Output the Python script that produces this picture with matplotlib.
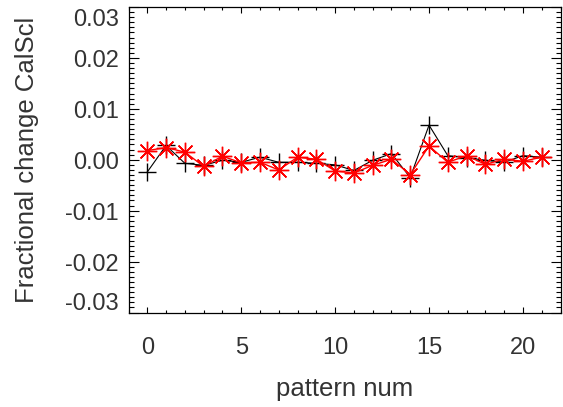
import matplotlib
matplotlib.use("Agg")
import matplotlib.pyplot as plt
from matplotlib.transforms import ScaledTranslation
from matplotlib.ticker import MultipleLocator

plt.rcParams['font.family'] = ['Liberation Sans', 'DejaVu Sans']

pattern = list(range(22))
black_vals = [-0.0024, 0.0028, -0.0007, -0.0011, -0.0001, -0.0005, 0.0005, -0.0005,
              -0.0005, -0.0007, -0.0010, -0.0021, -0.0001, 0.0012, -0.0035, 0.0068,
              0.0008, 0.0004, -0.0001, -0.0005, 0.0008, 0.0005]
red_vals = [0.0018, 0.0024, 0.0015, -0.0013, 0.0007, -0.0006, -0.0005, -0.0020,
            0.0005, 0.0001, -0.0022, -0.0026, -0.0011, 0.0001, -0.0029, 0.0027,
            -0.0005, 0.0008, -0.0009, 0.0001, -0.0003, 0.0005]
yticks = [-0.03, -0.02, -0.01, 0.00, 0.01, 0.02, 0.03]
ytick_labels = ['-0.03', '-0.02', '-0.01', '0.00', '0.01', '0.02', '0.03']
xticks = [0, 5, 10, 15, 20]
xtick_labels = ['0', '5', '10', '15', '20']

TXT = '#333333'
W, H = 563, 407
fig = plt.figure(figsize=(W / 100, H / 100), dpi=100)
ax = fig.add_axes([128.5 / W, 1 - 312.5 / H, (560.5 - 128.5) / W, (312.5 - 7) / H])

ax.plot(pattern, black_vals, color='black', lw=0.8, marker='+', ms=13, mew=1.0, zorder=2)
ax.plot(pattern, red_vals, color='red', lw=1.0, marker=(8, 2, 0), ms=14, mew=1.0, zorder=3)

ax.set_xlim(-1, 22)
ax.set_ylim(-0.03, 0.03)

ax.set_xticks(xticks)
ax.set_xticklabels(xtick_labels)
ax.xaxis.set_minor_locator(MultipleLocator(1))
ax.set_yticks(yticks)
ax.set_yticklabels([''] * len(yticks))
ax.yaxis.set_minor_locator(MultipleLocator(0.001))

ax.tick_params(axis='both', which='both', direction='in', top=True, right=True,
               colors='black', labelcolor=TXT)
ax.tick_params(axis='x', which='major', length=4.5, width=0.8, labelsize=17, pad=18)
ax.tick_params(axis='x', which='minor', length=2.3, width=0.8)
ax.tick_params(axis='y', which='major', length=7, width=0.8)
ax.tick_params(axis='y', which='minor', length=3.5, width=0.8)

for sp in ax.spines.values():
    sp.set_linewidth(0.9)

# y tick labels drawn as text with IDL-like vertical nudges
offsets = {'0.03': -9.4, '-0.03': 5.8}
ytr = ax.get_yaxis_transform()
for v, lab in zip(yticks, ytick_labels):
    dy = offsets.get(lab, -2.2)
    tr = ytr + ScaledTranslation(-10 / 100, dy / 72, fig.dpi_scale_trans)
    ax.text(0, v, lab, transform=tr, ha='right', va='center', fontsize=17, color=TXT)

fig.text(345 / W, 1 - 389 / H, 'pattern num', ha='center', va='center', fontsize=18.5, color=TXT)
fig.text(27 / W, 1 - 160 / H, 'Fractional change CalScl', ha='center', va='center',
         rotation=90, fontsize=18.5, color=TXT)

fig.savefig('out.png', dpi=100)
